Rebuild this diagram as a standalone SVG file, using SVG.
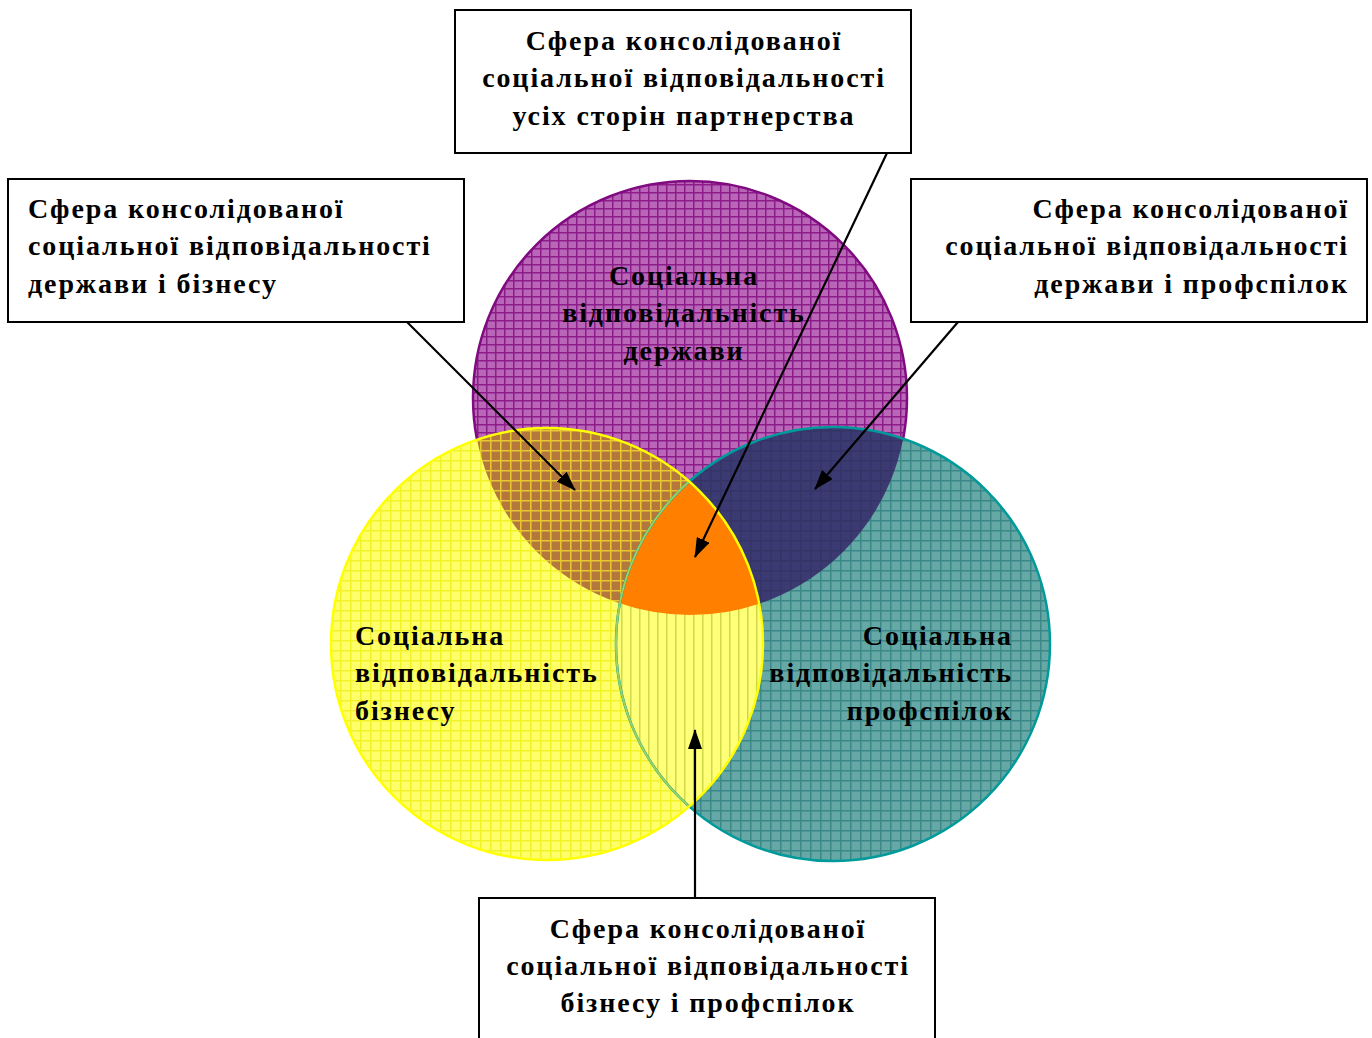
<svg xmlns="http://www.w3.org/2000/svg" width="1372" height="1038" viewBox="0 0 1372 1038">
<style>
.box{fill:#fff;stroke:#000;stroke-width:2}
.t{font-family:"Liberation Serif","Times New Roman",serif;font-weight:bold;font-size:28px;letter-spacing:1.9px;fill:#000}
.c{text-anchor:middle}
.r{text-anchor:end}
.conn{stroke:#000;stroke-width:2.2;fill:none;marker-end:url(#arr)}
</style>
<defs>
<marker id="arr" viewBox="0 0 20 14" refX="19" refY="7" markerWidth="20" markerHeight="14" markerUnits="userSpaceOnUse" orient="auto">
<path d="M0,0 L20,7 L0,14 Z" fill="#000"/>
</marker>
<pattern id="pP" width="9" height="8" patternUnits="userSpaceOnUse">
<rect width="9" height="8" fill="#BA66B8"/>
<path d="M0,0.75 H9 M0.75,0 V8" stroke="#8C1C8A" stroke-width="1.5"/>
</pattern>
<pattern id="pY" width="10" height="10" patternUnits="userSpaceOnUse">
<rect width="10" height="10" fill="#FFFF6A"/>
<path d="M0,0.75 H10 M0.75,0 V10" stroke="#F2F22A" stroke-width="1.5"/>
</pattern>
<pattern id="pT" width="10" height="10" patternUnits="userSpaceOnUse">
<rect width="10" height="10" fill="#66A8A6"/>
<path d="M0,0.75 H10 M0.75,0 V10" stroke="#3A8888" stroke-width="1.5"/>
</pattern>
<pattern id="pPY" width="10" height="10" patternUnits="userSpaceOnUse">
<rect width="10" height="10" fill="#B4783C"/>
<path d="M0,0.75 H10 M0.75,0 V10" stroke="#E8C830" stroke-width="1.5"/>
</pattern>
<pattern id="pPT" width="10" height="10" patternUnits="userSpaceOnUse">
<rect width="10" height="10" fill="#3C3A72"/>
<path d="M0,0.75 H10 M0.75,0 V10" stroke="#343466" stroke-width="1.5"/>
</pattern>
<pattern id="pYT" width="9" height="10" patternUnits="userSpaceOnUse">
<rect width="9" height="10" fill="#FFFF78"/>
<path d="M0.75,0 V10" stroke="#D0D84A" stroke-width="1.5"/>
</pattern>
<clipPath id="clP"><circle cx="690" cy="398" r="217"/></clipPath>
<clipPath id="clY"><circle cx="547" cy="644" r="216"/></clipPath>
<clipPath id="clYP" clip-path="url(#clP)"><circle cx="547" cy="644" r="216"/></clipPath>
</defs>

<g id="circle-state">
<circle cx="690" cy="398" r="217" fill="url(#pP)" stroke="#800A80" stroke-width="2.5"/>
<text class="t c" x="684" y="285">Соціальна</text>
<text class="t c" x="684" y="322">відповідальність</text>
<text class="t c" x="684" y="360">держави</text>
</g>
<g id="circle-business">
<circle cx="547" cy="644" r="216" fill="url(#pY)"/>
</g>
<g id="circle-unions">
<circle cx="833" cy="644" r="217" fill="url(#pT)"/>
</g>
<g id="overlap-state-business">
<circle cx="547" cy="644" r="216" fill="url(#pPY)" clip-path="url(#clP)"/>
</g>
<g id="overlap-state-unions">
<circle cx="833" cy="644" r="217" fill="url(#pPT)" clip-path="url(#clP)"/>
</g>
<g id="overlap-business-unions">
<circle cx="833" cy="644" r="217" fill="url(#pYT)" clip-path="url(#clY)"/>
</g>
<g id="overlap-all">
<circle cx="833" cy="644" r="217" fill="#FF8000" clip-path="url(#clYP)"/>
</g>
<g id="outlines">
<circle cx="833" cy="644" r="217" fill="none" stroke="#009A9A" stroke-width="2.5"/>
<circle cx="833" cy="644" r="217" fill="none" stroke="#9CD060" stroke-width="2" clip-path="url(#clY)"/>
<circle cx="547" cy="644" r="216" fill="none" stroke="#FFFF00" stroke-width="2.5"/>
</g>
<g id="labels-circles">
<text class="t" x="355" y="645">Соціальна</text>
<text class="t" x="355" y="682">відповідальність</text>
<text class="t" x="355" y="720">бізнесу</text>
<text class="t r" x="1013" y="645">Соціальна</text>
<text class="t r" x="1013" y="682">відповідальність</text>
<text class="t r" x="1013" y="720">профспілок</text>
</g>

<g id="connectors">
<line class="conn" x1="407" y1="322" x2="575" y2="490"/>
<line class="conn" x1="887" y1="153" x2="695" y2="557"/>
<line class="conn" x1="958" y1="322" x2="815" y2="489"/>
<line class="conn" x1="695" y1="898" x2="695" y2="730"/>
</g>

<g id="box-all">
<rect class="box" x="455" y="10" width="456" height="143"/>
<text class="t c" x="684" y="50">Сфера консолідованої</text>
<text class="t c" x="684" y="87">соціальної відповідальності</text>
<text class="t c" x="684" y="125">усіх сторін партнерства</text>
</g>
<g id="box-state-business">
<rect class="box" x="8" y="179" width="456" height="143"/>
<text class="t" x="28" y="218">Сфера консолідованої</text>
<text class="t" x="28" y="255">соціальної відповідальності</text>
<text class="t" x="28" y="293">держави і бізнесу</text>
</g>
<g id="box-state-unions">
<rect class="box" x="911" y="179" width="456" height="143"/>
<text class="t r" x="1349" y="218">Сфера консолідованої</text>
<text class="t r" x="1349" y="255">соціальної відповідальності</text>
<text class="t r" x="1349" y="293">держави і профспілок</text>
</g>
<g id="box-business-unions">
<rect class="box" x="479" y="898" width="456" height="145"/>
<text class="t c" x="708" y="938">Сфера консолідованої</text>
<text class="t c" x="708" y="975">соціальної відповідальності</text>
<text class="t c" x="708" y="1012">бізнесу і профспілок</text>
</g>
</svg>
